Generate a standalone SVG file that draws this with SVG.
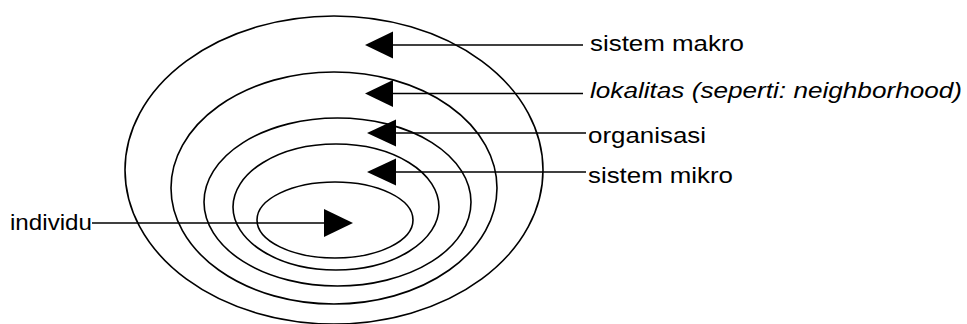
<svg xmlns="http://www.w3.org/2000/svg" width="967" height="324" viewBox="0 0 967 324">
<style>
.ring{fill:none;stroke:#000;stroke-width:1.6}
.ln{stroke:#000;stroke-width:1.5;fill:none}
.head{fill:#000}
.lbl{font-family:"Liberation Sans",Arial,sans-serif;font-size:22px;fill:#000}
.it{font-style:italic}
</style>
<rect width="967" height="324" fill="#fff"/>
<g id="ring-makro"><ellipse class="ring" cx="334" cy="170" rx="209" ry="154"/></g>
<g id="ring-lokalitas"><ellipse class="ring" cx="334" cy="188" rx="163" ry="116"/></g>
<g id="ring-organisasi"><ellipse class="ring" cx="337.5" cy="202" rx="133.5" ry="84"/></g>
<g id="ring-mikro"><ellipse class="ring" cx="336" cy="207" rx="103" ry="63"/></g>
<g id="ring-individu"><ellipse class="ring" cx="335" cy="220" rx="78" ry="38"/></g>
<g id="connectors">
<line class="ln" x1="393" y1="45" x2="583" y2="45"/>
<polygon class="head" points="365,45 393,31.5 393,58.5"/>
<line class="ln" x1="393" y1="93.5" x2="583" y2="93.5"/>
<polygon class="head" points="365,93.5 393,80 393,107"/>
<line class="ln" x1="396" y1="133" x2="586" y2="133"/>
<polygon class="head" points="367,133 396,119.5 396,146.5"/>
<line class="ln" x1="396" y1="172" x2="586" y2="172"/>
<polygon class="head" points="367,172 396,158.5 396,185.5"/>
<line class="ln" x1="92" y1="223" x2="324" y2="223"/>
<polygon class="head" points="353,223 324,209 324,237"/>
</g>
<g id="label-makro"><text class="lbl" x="590" y="51" textLength="154" lengthAdjust="spacingAndGlyphs">sistem makro</text></g>
<g id="label-lokalitas"><text class="lbl it" x="590" y="98" textLength="372" lengthAdjust="spacingAndGlyphs">lokalitas (seperti: neighborhood)</text></g>
<g id="label-organisasi"><text class="lbl" x="588" y="143" textLength="118" lengthAdjust="spacingAndGlyphs">organisasi</text></g>
<g id="label-mikro"><text class="lbl" x="588" y="183" textLength="145" lengthAdjust="spacingAndGlyphs">sistem mikro</text></g>
<g id="label-individu"><text class="lbl" x="10" y="230" textLength="82" lengthAdjust="spacingAndGlyphs">individu</text></g>
</svg>
